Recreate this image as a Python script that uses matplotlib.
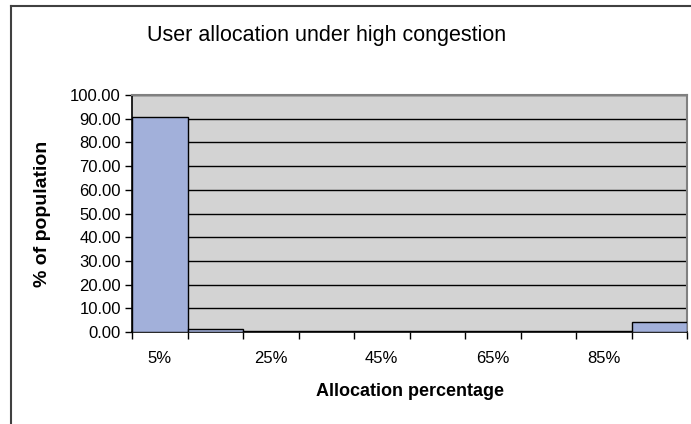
import matplotlib.pyplot as plt
from matplotlib.lines import Line2D
from matplotlib.ticker import FixedLocator, FormatStrFormatter

plt.rcParams['font.family'] = ['Liberation Sans', 'DejaVu Sans']

categories = ['5%', '15%', '25%', '35%', '45%', '55%', '65%', '75%', '85%', '95%']
population = [90.7, 1.3, 0.3, 0.3, 0.3, 0.3, 0.3, 0.3, 0.3, 4.1]

fig = plt.figure(figsize=(6.91, 4.24), dpi=100)
ax = fig.add_axes([132 / 691, 1 - 332 / 424, 555 / 691, 237 / 424])
ax.set_facecolor('#d3d3d3')

x = list(range(len(categories)))
ax.bar(x, population, width=1.0, color='#a2b0da', edgecolor='black',
       linewidth=1.0, zorder=3)

ax.set_xlim(-0.5, len(categories) - 0.5)
ax.set_ylim(0, 100)

# y axis: every 10, two decimals
ax.set_yticks(range(0, 101, 10))
ax.yaxis.set_major_formatter(FormatStrFormatter('%.2f'))
ax.grid(axis='y', color='black', linewidth=1.0, zorder=1)
ax.set_axisbelow(True)

# x axis: tick marks at category edges, labels on every other category
ax.xaxis.set_major_locator(FixedLocator([i - 0.5 for i in range(len(categories) + 1)]))
ax.xaxis.set_major_formatter(plt.NullFormatter())
ax.xaxis.set_minor_locator(FixedLocator(x[::2]))
ax.set_xticklabels(categories[::2], minor=True)
ax.tick_params(axis='x', which='minor', length=0, pad=14, labelsize=12)
ax.tick_params(axis='x', which='major', length=5, width=1, direction='out')
ax.tick_params(axis='y', length=5, width=1, direction='out', labelsize=12, pad=3)

for s in ['left', 'bottom']:
    ax.spines[s].set_color('black')
    ax.spines[s].set_linewidth(1.2)
for s in ['top', 'right']:
    ax.spines[s].set_color('#808080')
    ax.spines[s].set_linewidth(1.5)

ax.set_xlabel('Allocation percentage', fontsize=13, fontweight='bold', labelpad=12)
ax.set_ylabel('% of population', fontsize=14, fontweight='bold', labelpad=14)

fig.text(327 / 691, 1 - 36 / 424, 'User allocation under high congestion',
         ha='center', va='center', fontsize=15.5)

# chart area frame
fig.add_artist(Line2D([10.5 / 691, 10.5 / 691], [0, 1 - 6 / 424],
                      transform=fig.transFigure, color='#404040', linewidth=1.5))
fig.add_artist(Line2D([10.5 / 691, 1], [1 - 6 / 424, 1 - 6 / 424],
                      transform=fig.transFigure, color='#404040', linewidth=1.5))

fig.savefig('out.png', dpi=100)
